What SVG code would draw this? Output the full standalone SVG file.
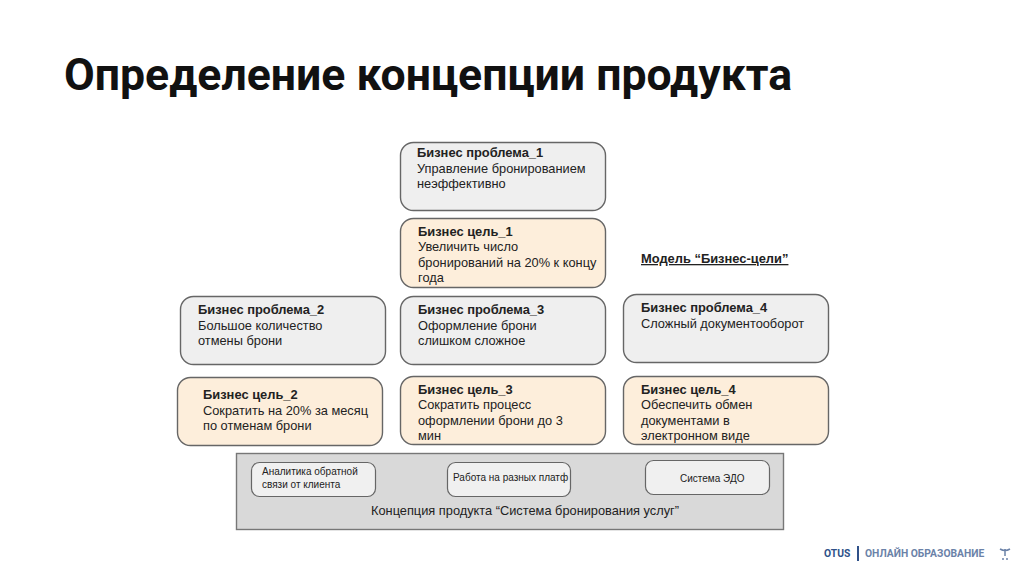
<svg xmlns="http://www.w3.org/2000/svg" width="1024" height="574" viewBox="0 0 1024 574">
<style>
text{font-family:"Liberation Sans",Arial,sans-serif;fill:#222;font-size:12.8px}
.b{font-weight:700;font-size:12.900px}
.p{fill:#efefef;stroke:#666;stroke-width:1.4}
.g{fill:#fdeedb;stroke:#666;stroke-width:1.4}
.s{font-size:10px}
.c{fill:#f0f0f0;stroke:#666;stroke-width:1.2}
</style>
<rect width="1024" height="574" fill="#fff"/>
<text x="64" y="90" style="font-family:Roboto,sans-serif;font-weight:700;font-size:44.600px;fill:#111">Определение концепции продукта</text>
<g id="p1"><rect class="p" x="400.500" y="142.500" width="205" height="68" rx="13"/><text class="b" x="417" y="157">Бизнес проблема_1</text><text x="417" y="173">Управление бронированием</text><text x="417" y="188">неэффективно</text></g>
<g id="g1"><rect class="g" x="400.500" y="218.500" width="205" height="69" rx="13"/><text class="b" x="418" y="236">Бизнес цель_1</text><text x="418" y="251">Увеличить число</text><text x="418" y="267">бронирований на 20% к концу</text><text x="418" y="282">года</text></g>
<text id="model" class="b" x="641" y="263" text-decoration="underline">Модель “Бизнес-цели”</text>
<g id="p2"><rect class="p" x="180.500" y="296.500" width="205" height="68" rx="13"/><text class="b" x="198" y="314">Бизнес проблема_2</text><text x="198" y="330">Большое количество</text><text x="198" y="345">отмены брони</text></g>
<g id="p3"><rect class="p" x="400.500" y="296.500" width="205" height="68" rx="13"/><text class="b" x="418" y="314">Бизнес проблема_3</text><text x="418" y="330">Оформление брони</text><text x="418" y="345">слишком сложное</text></g>
<g id="p4"><rect class="p" x="623.500" y="294.500" width="205" height="68" rx="13"/><text class="b" x="641" y="312">Бизнес проблема_4</text><text x="641" y="328">Сложный документооборот</text></g>
<g id="g2"><rect class="g" x="177.500" y="377.500" width="205" height="68" rx="13"/><text class="b" x="203" y="399">Бизнес цель_2</text><text x="203" y="415">Сократить на 20% за месяц</text><text x="203" y="430">по отменам брони</text></g>
<g id="g3"><rect class="g" x="400.500" y="376.500" width="205" height="68" rx="13"/><text class="b" x="418" y="394">Бизнес цель_3</text><text x="418" y="409">Сократить процесс</text><text x="418" y="425">оформлении брони до 3</text><text x="418" y="440">мин</text></g>
<g id="g4"><rect class="g" x="623.500" y="376.500" width="205" height="68" rx="13"/><text class="b" x="641" y="394">Бизнес цель_4</text><text x="641" y="409">Обеспечить обмен</text><text x="641" y="425">документами в</text><text x="641" y="440">электронном виде</text></g>
<g id="concept"><rect x="236.500" y="453.500" width="547" height="76" fill="#d9d9d9" stroke="#777" stroke-width="1.4"/><text x="525" y="515" text-anchor="middle">Концепция продукта “Система бронирования услуг”</text></g>
<g id="c1"><rect class="c" x="251.500" y="462.500" width="124" height="34" rx="8"/><text class="s" x="262" y="475">Аналитика обратной</text><text class="s" x="262" y="488">связи от клиента</text></g>
<g id="c2"><rect class="c" x="447.500" y="462.500" width="123" height="34" rx="8"/><text class="s" x="453" y="481">Работа на разных платф</text></g>
<g id="c3"><rect class="c" x="645.500" y="460.500" width="124" height="34" rx="8"/><text class="s" x="680" y="482">Система ЭДО</text></g>
<g id="connectors"/>
<g id="footer"><text x="824" y="557" style="font-family:Roboto,sans-serif;font-weight:700;font-size:10.300px;fill:#2f5189">OTUS</text><rect x="857" y="546" width="2" height="15" fill="#2f5189"/><text x="865" y="557" style="font-family:Roboto,sans-serif;font-weight:700;font-size:10.300px;fill:#6b82a8">ОНЛАЙН ОБРАЗОВАНИЕ</text><path d="M1000 549Q1005 552 1010 549M1005 549V556" stroke="#6b82a8" stroke-width="1.500" fill="none"/><circle cx="1003" cy="559" r="1" fill="#6b82a8"/><circle cx="1007" cy="559" r="1" fill="#6b82a8"/></g>
</svg>
